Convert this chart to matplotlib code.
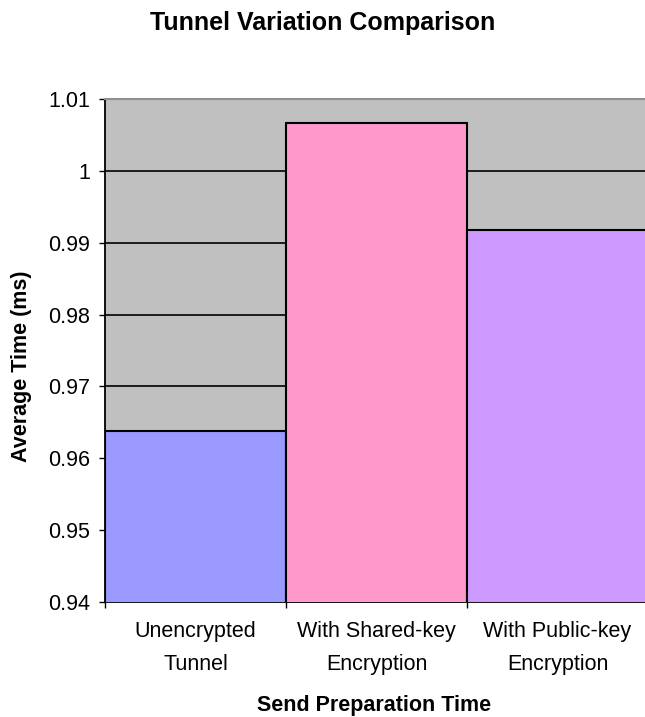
import matplotlib
matplotlib.use("Agg")
import matplotlib.pyplot as plt
import numpy as np

plt.rcParams['font.family'] = ['Liberation Sans', 'DejaVu Sans']

# data
categories = ['Unencrypted\nTunnel', 'With Shared-key\nEncryption', 'With Public-key\nEncryption']
avg_time = [0.9638, 1.0066, 0.9918]
bar_colors = ['#9999FF', '#FF99CC', '#CC99FF']
y_ticks = [0.94, 0.95, 0.96, 0.97, 0.98, 0.99, 1.00, 1.01]
y_tick_labels = ['0.94', '0.95', '0.96', '0.97', '0.98', '0.99', '1', '1.01']

W, H = 645, 717
fig = plt.figure(figsize=(W / 100, H / 100), dpi=100)
# plot area runs slightly past the right edge of the figure (cropped in the original)
ax = fig.add_axes([105 / W, (H - 602) / H, 543 / W, 503 / H])
ax.set_facecolor('#C0C0C0')

x = np.arange(len(categories))
ax.bar(x, avg_time, width=1.0, bottom=0, color=bar_colors,
       edgecolor='black', linewidth=1.5, zorder=3)

ax.set_xlim(-0.5, len(categories) - 0.5)
ax.set_ylim(0.94, 1.01)
ax.set_yticks(y_ticks)
ax.set_yticklabels(y_tick_labels, fontsize=15.5)
ax.yaxis.grid(True, color='black', linewidth=1.2, zorder=1)
ax.set_axisbelow(True)

# category labels centred, ticks on category boundaries
ax.set_xticks(x)
ax.set_xticklabels(categories, fontsize=15.5, linespacing=1.75)
ax.tick_params(axis='x', length=0, pad=14)
ax.set_xticks(np.arange(-0.5, len(categories), 1.0), minor=True)
ax.tick_params(axis='x', which='minor', length=4.5, width=1, direction='out')
ax.tick_params(axis='y', length=4.5, width=1, direction='out', pad=6)

for side in ['left', 'bottom']:
    ax.spines[side].set_color('black')
    ax.spines[side].set_linewidth(1.3)
ax.spines['top'].set_color('#909090')
ax.spines['top'].set_linewidth(1.5)
ax.spines['right'].set_visible(False)

fig.text(22 / W, 1 - 366 / H, 'Average Time (ms)', fontsize=15.5, fontweight='bold',
         rotation=90, ha='center', va='center')
fig.text(374 / W, 1 - 705 / H, 'Send Preparation Time', fontsize=15.5,
         fontweight='bold', ha='center', va='center')
fig.text(323 / W, 1 - 23 / H, 'Tunnel Variation Comparison', fontsize=18,
         fontweight='bold', ha='center', va='center')

fig.savefig('out.png', dpi=100)
